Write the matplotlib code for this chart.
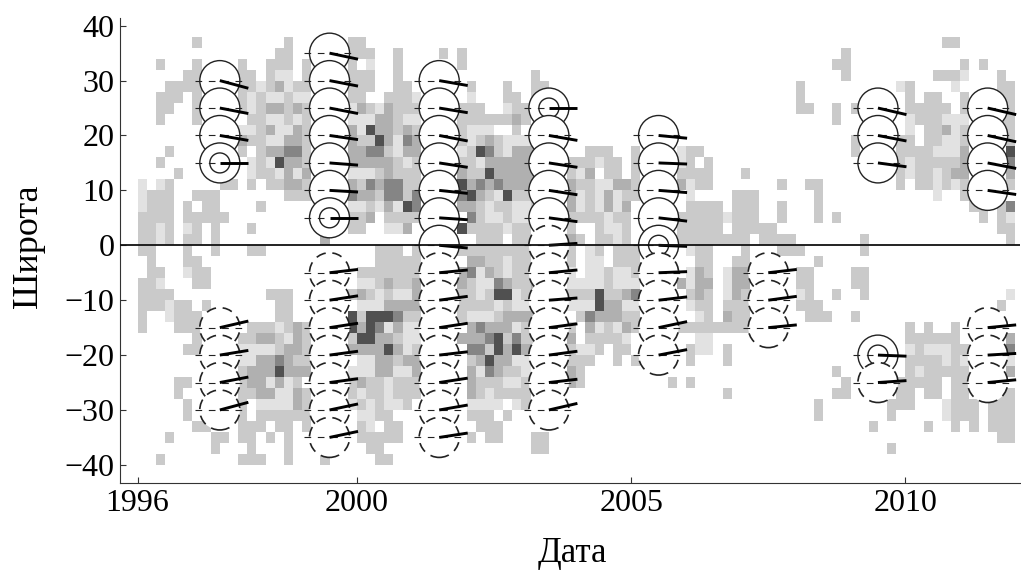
# -*- coding: utf-8 -*-
import numpy as np
import matplotlib
matplotlib.use('Agg')
import matplotlib.pyplot as plt
from matplotlib.colors import ListedColormap, BoundaryNorm
from matplotlib.patches import Ellipse

plt.rcParams['font.family'] = ['Liberation Serif', 'DejaVu Serif']

# density map, two-month bins from 1996, rows are 2 degree bands from the top
# each row: 1996-2001 | 2001-2006 | 2006-2012, 0 = empty, '.' = 0
north_rows = [
    "......2.........2......22.......|" + "|" + "........................22",
    "...............22......222..2...|.2.2|.............2",
    "..2...2....2..222.2....2.1..2...|...2|............22............2.2",
    ".....22....22.211.2....222..2...|...........2|.............2.........2221...2",
    "...2222....22123122....222..22.2|....2...2..22|........2..........12....1....22",
    "..222.2....21211211....22..2221.|....1...22.2|........2...........2.22..2...22",
    "..22..2....21233232....13213222.|...222..1222|........22..2.2.....22222.2...22",
    "..2...2.....2211212....11133211.|...22222232|............2.......1222111...22",
    "...........11231132....31533232.|...2111..2|....................1.22312....2",
    "...........32211332....32253143.|...212321111|..............2....22.22112....2",
    "...2.......2.233442....33442133.|...125421333.....222..2....122..|..............2....22221113....5",
    "..2.........1215332....33333212.|...221333333...222122.2....12.2.|...................21222223....4",
    "....2.......1221313....11123222.|...322533333...213.22.2....2222.|..2................21221233....3",
    "1.12.....22.2.22332....32434422.|...534343333...32211332....3122.|......2..22........2.221212....2",
    "1222..222.......222....43324424.|...453215223...31213122.....1...|.222......2............1..22",
    "1222.2.22....2.........11213154.|...332122112...3121313......2222|.222..2...2................22.24",
    "2222.22222.............223.2222.|....42112112...2222122.....22222|1222..2...2.2...............2.21",
    "2212.12.2...2..........22..113..|...52222122....2..2112.....22222|.22222........................22",
    "2212.22.2...........3...........|.....222.222...32.2212.....22222|222.2222.......2...............2",
]
south_rows = [
    "22...2..2...22............222.2.|...22222222....2.12.222.....122.|..2...222......2",
    ".2...22...................22222.|....3322122....2.11.222......22.|.22.......2",
    ".22..122................2222222.|...34132122....1.112112.....132.|133.....22....22",
    "221...22................1123223.|...321143223...11112111....3133.|133.....22....22",
    "2222..........222......23212113.|...221255123...22252234.....232.|132.....12..2..2...............1",
    "222122.2.......22.......1113333.|...22221211....11153311.....122.|222.....222...................2",
    "2..1222........22......52555422.|...211123333....2433322......12.|322......222..2",
    "2...222.....2221232....53541311.|....34333124...2.312132....22222|2222................2.2..2",
    "......2....22332132....25533211.|...333452422...3.22221.......11.|....................222222.....3",
    ".....22....11112332....33335312.|....4425353....2112.22......211.|2...................1211122....4",
    "...........11334322.....1133233.|....23533112...222..2.2.....2...|2...................2222121....1",
    "...........23335333....11133113.|....3143221....32|............2.......2122222....3",
    "....22.....2331312.....23221222.|....3222112....32.........2.2...|.............2.....22222.22",
    "....2......22331132....21221222.|....3212222|2...........22.....22.22.22..222",
    ".....2.....2.111132....1212112..|....1111.12|..........2.......222...1222.222",
    ".....2.....2.222222.....1122....|....222.2|..........2.......2.....1222.222",
    "......22...222.22.2.....21.22...|.....222|................2.....2..2.2.222",
    "...2....22.22.2.2.......22222...|....2.22...22|..............................22",
    "........2...2...2........22.....|...........22|..................2",
    "..2........222..2...2.....22....||",
]
gray_levels = ['#ffffff', '#e2e2e2', '#cacaca', '#b0b0b0', '#858585', '#505050']

# (latitude, tail end shift in degrees, kind): s solid, r solid with ring, d dashed
g1997 = [(30, -1.4, 's'), (25, -1.0, 's'), (20, -0.9, 's'), (15, 0, 'r'),
         (-15, 1.2, 'd'), (-20, 0.85, 'd'), (-25, 1.0, 'd'), (-30, 1.4, 'd')]
g1999 = [(35, -1.1, 's'), (30, -1.0, 's'), (25, -1.0, 's'), (20, -0.75, 's'),
         (15, -0.4, 's'), (10, -0.3, 's'), (5, 0, 'r'),
         (-5, 0.6, 'd'), (-10, 0.8, 'd'), (-15, 0.8, 'd'), (-20, 0.7, 'd'),
         (-25, 0.7, 'd'), (-30, 1.1, 'd'), (-35, 1.1, 'd')]
g2001 = [(30, -0.9, 's'), (25, -0.85, 's'), (20, -1.0, 's'), (15, -0.8, 's'),
         (10, -0.55, 's'), (5, -0.35, 's'), (0, -0.5, 's'),
         (-5, 0.5, 'd'), (-10, 0.7, 'd'), (-15, 0.8, 'd'), (-20, 0.6, 'd'),
         (-25, 0.8, 'd'), (-30, 0.9, 'd'), (-35, 0.8, 'd')]
g2003 = [(25, 0, 'r'), (20, -0.9, 's'), (15, -0.8, 's'), (10, -0.8, 's'), (5, -0.7, 's'),
         (0, 0.35, 'd'), (-5, 0.5, 'd'), (-10, 0.4, 'd'), (-15, 0.7, 'd'),
         (-20, 0.7, 'd'), (-25, 0.6, 'd'), (-30, 1.2, 'd')]
g2005 = [(20, -0.5, 's'), (15, -0.2, 's'), (10, -0.4, 's'), (5, -0.6, 's'), (0, -0.2, 'r'),
         (-5, 0.2, 'd'), (-10, 0.6, 'd'), (-15, 1.1, 'd'), (-20, 1.0, 'd')]
g2007 = [(-5, 0.6, 'd'), (-10, 0.7, 'd'), (-15, 0.5, 'd')]
g2009 = [(25, -1.2, 's'), (20, -1.0, 's'), (15, -0.7, 's'), (-20, -0.2, 'r'), (-25, 0.35, 'd')]
g2011 = [(25, -1.2, 's'), (20, -1.15, 's'), (15, -1.0, 's'), (10, -0.75, 's'),
         (-15, 0.5, 'd'), (-20, 0.3, 'd'), (-25, 0.5, 'd')]
groups = [(1997.5, g1997), (1999.5, g1999), (2001.5, g2001), (2003.5, g2003),
          (2005.5, g2005), (2007.5, g2007), (2009.5, g2009), (2011.5, g2011)]

x_ticks = [1996, 2000, 2005, 2010]
y_ticks = [-40, -30, -20, -10, 0, 10, 20, 30, 40]


def parse(row):
    parts = row.split('|')
    s = ''.join(p.ljust(32, '.')[:32] for p in parts)
    return [0 if ch == '.' else int(ch) for ch in s.ljust(96, '.')]


grid = np.array([parse(r) for r in north_rows + south_rows], dtype=float)
x_edges = 1996 + np.arange(97) / 6.0
y_edges = 38 - 2.0 * np.arange(grid.shape[0] + 1)

fig = plt.figure(figsize=(10.21, 5.71), dpi=100)
ax = fig.add_axes([120 / 1021, 1 - 483 / 571, 900 / 1021, 465 / 571])

cmap = ListedColormap(gray_levels)
norm = BoundaryNorm(np.arange(-0.5, 6.5), cmap.N)
ax.pcolormesh(x_edges, y_edges, grid, cmap=cmap, norm=norm, zorder=1)

rx, ry = 0.365, 3.64
for year, spots in groups:
    for i, (lat, shift, kind) in enumerate(spots):
        ls = (0, (6, 4)) if kind == 'd' else '-'
        lw = 1.2 if kind == 'd' else 1.0
        z = 3 + i * 0.01
        ax.add_patch(Ellipse((year, lat), 2 * rx, 2 * ry, fc='white', ec='#222222',
                             lw=lw, ls=ls, zorder=z))
        if kind == 'r':
            ax.add_patch(Ellipse((year, lat), rx, ry, fc='none', ec='#222222', lw=1.0, zorder=z))
        ax.plot([year - 0.46, year + 0.47], [lat, lat], color='#222222', lw=0.8,
                ls=(0, (6, 6)), zorder=z)
        ax.plot([year, year + 0.52], [lat, lat + shift], color='black', lw=2.1,
                solid_capstyle='butt', zorder=z)

ax.axhline(0, color='#111111', lw=1.3, zorder=5)

ax.set_xlim(1995.68, 2012.09)
ax.set_ylim(-43.3, 41.4)
ax.set_xticks(x_ticks)
ax.set_yticks(y_ticks)
ax.set_yticklabels([str(v).replace('-', '\u2212') for v in y_ticks])
ax.tick_params(direction='in', length=4, width=0.8, labelsize=23, pad=4, color='#333333')
ax.spines['top'].set_visible(False)
ax.spines['right'].set_visible(False)
for side in ['left', 'bottom']:
    ax.spines[side].set_linewidth(0.8)
    ax.spines[side].set_color('#333333')

fig.text(28 / 1021, 1 - 246 / 571, 'Широта', rotation=90, fontsize=26, ha='center', va='center')
fig.text(572 / 1021, 1 - 554 / 571, 'Дата', fontsize=25, ha='center', va='center')

fig.savefig('out.png', dpi=100)
